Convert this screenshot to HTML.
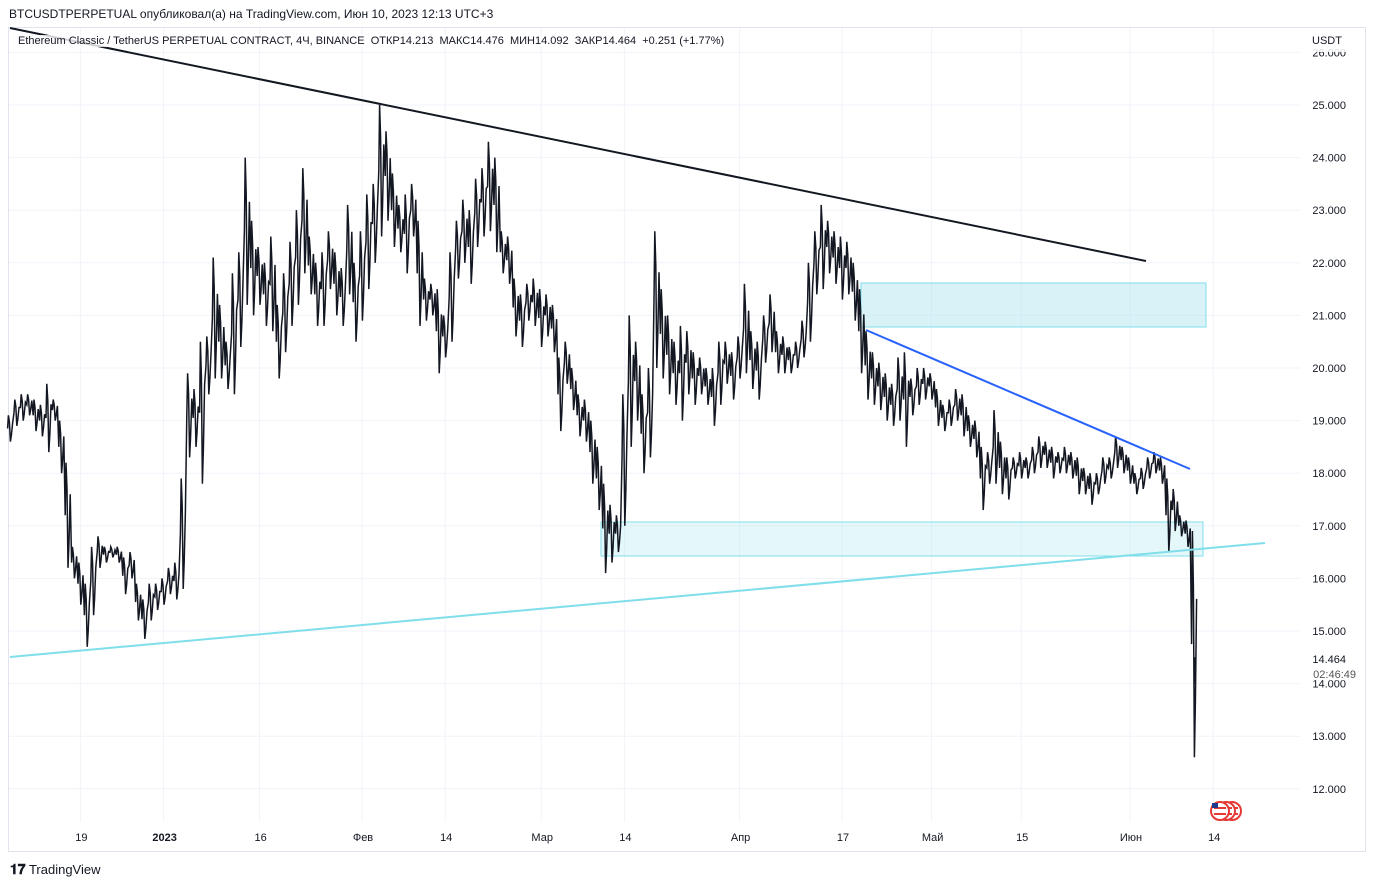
<!DOCTYPE html>
<html><head><meta charset="utf-8">
<style>
body{margin:0;background:#fff;font-family:"Liberation Sans","Noto Sans CJK SC",sans-serif;}
#wrap{position:relative;width:1376px;height:887px;overflow:hidden;background:#fff;}
.t{position:absolute;white-space:nowrap;color:#131722;}
</style></head>
<body>
<div id="wrap">
<div class="t" style="left:9px;top:7px;font-size:12px;">BTCUSDTPERPETUAL опубликовал(а) на TradingView.com, Июн 10, 2023 12:13 UTC+3</div>
<svg id="chart" width="1376" height="887" style="position:absolute;left:0;top:0"></svg>
<div class="t" style="left:18px;top:35px;font-size:11px;background:rgba(255,255,255,0.8)">Ethereum Classic / TetherUS PERPETUAL CONTRACT, 4Ч, BINANCE&nbsp; ОТКР14.213&nbsp; МАКС14.476&nbsp; МИН14.092&nbsp; ЗАКР14.464&nbsp; +0.251 (+1.77%)</div>
<div class="t" style="left:1306px;top:33px;font-size:11px;background:rgba(255,255,255,0.85);padding:2px 8px 5px 6px">USDT</div>
<div class="t" style="left:10px;top:861px;font-size:13px;"><b style="font-size:14px">𝟏𝟕</b> TradingView</div>
</div>
<script>
const lows=[18.6,18.9,19.0,19.1,18.8,18.7,18.4,19.0,18.0,16.2,16.0,15.5,14.7,15.3,16.2,16.3,16.4,16.3,15.7,16.0,15.2,14.85,15.2,15.4,15.5,15.7,15.6,15.8,18.3,18.5,17.8,19.5,19.8,19.8,19.6,19.5,20.4,21.2,21.0,21.2,20.8,20.7,19.8,20.3,20.8,21.2,21.8,21.4,20.8,20.8,21.5,21.0,20.8,21.4,20.5,20.9,21.5,22.0,22.5,22.8,22.3,22.2,21.8,22.5,20.8,20.9,21.0,19.9,20.2,20.5,21.7,22.0,21.6,22.3,22.5,22.6,22.2,21.8,21.6,20.6,20.4,20.9,20.8,20.4,20.6,20.3,18.8,19.7,19.2,18.7,18.6,17.8,17.3,16.1,16.3,16.5,17.0,18.5,19.0,18.0,18.3,20.0,19.8,19.5,19.3,19.0,19.5,19.3,19.5,19.3,18.9,19.3,19.7,19.4,19.8,19.9,19.6,19.4,20.1,20.3,19.9,19.9,19.9,20.0,20.2,20.5,21.4,21.5,21.8,21.6,21.3,21.4,20.9,19.9,19.4,19.3,19.2,19.0,18.9,19.0,18.5,19.1,19.3,19.4,19.4,18.9,18.8,18.9,19.0,18.7,18.5,18.3,17.3,17.8,17.8,17.6,17.5,17.9,17.9,17.9,18.0,18.1,18.1,17.9,18.0,18.0,17.9,17.6,17.6,17.4,17.6,17.8,17.9,18.1,18.0,17.8,17.6,17.7,17.9,18.0,17.8,16.5,16.9,16.8,16.6,12.6];
const highs=[19.1,19.4,19.5,19.5,19.4,19.3,19.7,19.4,19.0,18.2,16.6,16.3,15.9,16.6,16.8,16.6,16.6,16.6,16.4,16.5,15.9,15.6,15.9,15.9,16.0,16.2,16.3,17.9,19.9,19.6,20.5,20.6,22.1,21.2,20.5,21.8,22.2,24.0,22.8,22.3,22.0,22.5,21.2,21.8,22.4,23.0,23.8,22.5,22.0,22.2,22.6,22.2,21.9,23.1,22.0,22.6,23.3,23.5,25.0,24.5,23.7,23.1,23.3,23.5,22.8,21.7,21.6,21.5,21.0,22.2,22.8,23.2,23.0,23.6,23.8,24.3,24.0,22.6,22.5,21.7,21.4,21.6,21.7,21.5,21.4,21.2,20.2,20.5,20.0,19.5,19.4,19.0,18.5,17.8,17.4,17.2,19.5,21.0,20.5,19.5,20.0,22.6,21.5,21.0,20.5,20.8,20.7,20.3,20.2,20.0,20.0,20.5,20.5,20.3,20.6,21.6,20.7,20.5,21.0,21.4,20.7,20.6,20.4,20.5,20.9,22.0,22.6,23.1,22.8,22.6,22.5,22.4,22.0,21.5,20.7,20.3,20.1,19.9,19.7,20.2,20.3,19.8,20.0,20.0,19.9,19.6,19.3,19.4,19.6,19.5,19.1,19.0,18.5,18.4,19.2,18.6,18.3,18.3,18.4,18.3,18.5,18.7,18.6,18.5,18.4,18.5,18.4,18.3,18.1,18.0,18.0,18.3,18.3,18.7,18.5,18.3,18.0,18.1,18.3,18.4,18.3,17.9,17.7,17.2,17.1,16.9];
const priceTicks=[26,25,24,23,22,21,20,19,18,17,16,15,14,13,12];
const dateLabels=["19","2023","16","Фев","14","Мар","14","Апр","17","Май","15","Июн","14"];
const dateDays=[11,24,39,55,68,83,96,114,130,144,158,175,188];
const lastPrice=14.464;

const NS="http://www.w3.org/2000/svg";
const svg=document.getElementById('chart');
const X=d=>10+d*6.4;
const Y=p=>105+(25-p)*52.6;
function mk(tag,attrs,parent){const e=document.createElementNS(NS,tag);for(const k in attrs)e.setAttribute(k,attrs[k]);(parent||svg).appendChild(e);return e;}

const fr=mk('rect',{x:8.5,y:27.5,width:1357,height:824,fill:'none',stroke:'#e0e3eb'});


priceTicks.forEach(p=>{const g=mk('line',{x1:9,x2:1300,y1:Y(p),y2:Y(p),stroke:'#f0f3fa'});

});
dateDays.forEach(d=>{const g=mk('line',{x1:X(d),x2:X(d),y1:28,y2:822,stroke:'#f0f3fa'});

});
const b1=mk('rect',{x:861,y:283,width:345,height:44,fill:'rgba(178,229,240,0.5)',stroke:'#80deea'});


const b2=mk('rect',{x:601,y:522,width:602,height:34,fill:'rgba(178,235,242,0.35)',stroke:'#80deea'});


let pts=[];
lows.forEach((lo,i)=>{const x=X(i),hi=highs[i],m=(lo+hi)/2;
pts.push((x-2.4)+','+Y(m));pts.push((x-1.6)+','+Y(hi));pts.push((x-0.6)+','+Y((m+hi)/2));pts.push((x+0.4)+','+Y(lo));pts.push((x+1.4)+','+Y((m+lo)/2));pts.push((x+2.6)+','+Y(m+(hi-m)*0.4));});
const ser=mk('polyline',{points:pts.join(' '),fill:'none',stroke:'#131722','stroke-width':1.5});


const lastBar=mk('line',{x1:X(185)+1,x2:X(185)+1,y1:Y(14.5),y2:Y(14.0),stroke:'#131722','stroke-width':2});


const l1=mk('line',{x1:10,y1:28,x2:1146,y2:261,stroke:'#131722','stroke-width':2});


const l2=mk('line',{x1:10,y1:657,x2:1265,y2:543,stroke:'#80deea','stroke-width':2});


const l3=mk('line',{x1:866,y1:330,x2:1190,y2:469,stroke:'#2962ff','stroke-width':2});


priceTicks.forEach(p=>{const t=mk('text',{x:1346,y:Y(p)+4,'font-size':11,'text-anchor':'end',fill:'#131722'});t.textContent=p.toFixed(3);

});
dateLabels.forEach((s,i)=>{const t=mk('text',{x:X(dateDays[i])+1,y:841,'font-size':11,'text-anchor':'middle',fill:'#131722','font-weight':s==='2023'?'bold':'normal'});t.textContent=s;

});
const bg=mk('rect',{x:1305,y:Y(lastPrice)-9,width:52,height:30,fill:'#fff'});


const lp=mk('text',{x:1346,y:Y(lastPrice)+4,'font-size':11,'text-anchor':'end',fill:'#131722'});lp.textContent=lastPrice.toFixed(3);


const cd=mk('text',{x:1356,y:Y(lastPrice)+19,'font-size':11,'text-anchor':'end',fill:'#555'});cd.textContent='02:46:49';


const fg=mk('g',{});


[1232,1226,1220].forEach(cx=>{mk('circle',{cx:cx,cy:811,r:9,fill:'#fff',stroke:'#e53935','stroke-width':2},fg);mk('line',{x1:cx-6,x2:cx+6,y1:808,y2:808,stroke:'#e53935','stroke-width':2},fg);mk('line',{x1:cx-6,x2:cx+6,y1:814,y2:814,stroke:'#e53935','stroke-width':2},fg);});
mk('rect',{x:1212,y:803,width:6,height:5,fill:'#1e3a8a'},fg);
</script>
</body></html>
